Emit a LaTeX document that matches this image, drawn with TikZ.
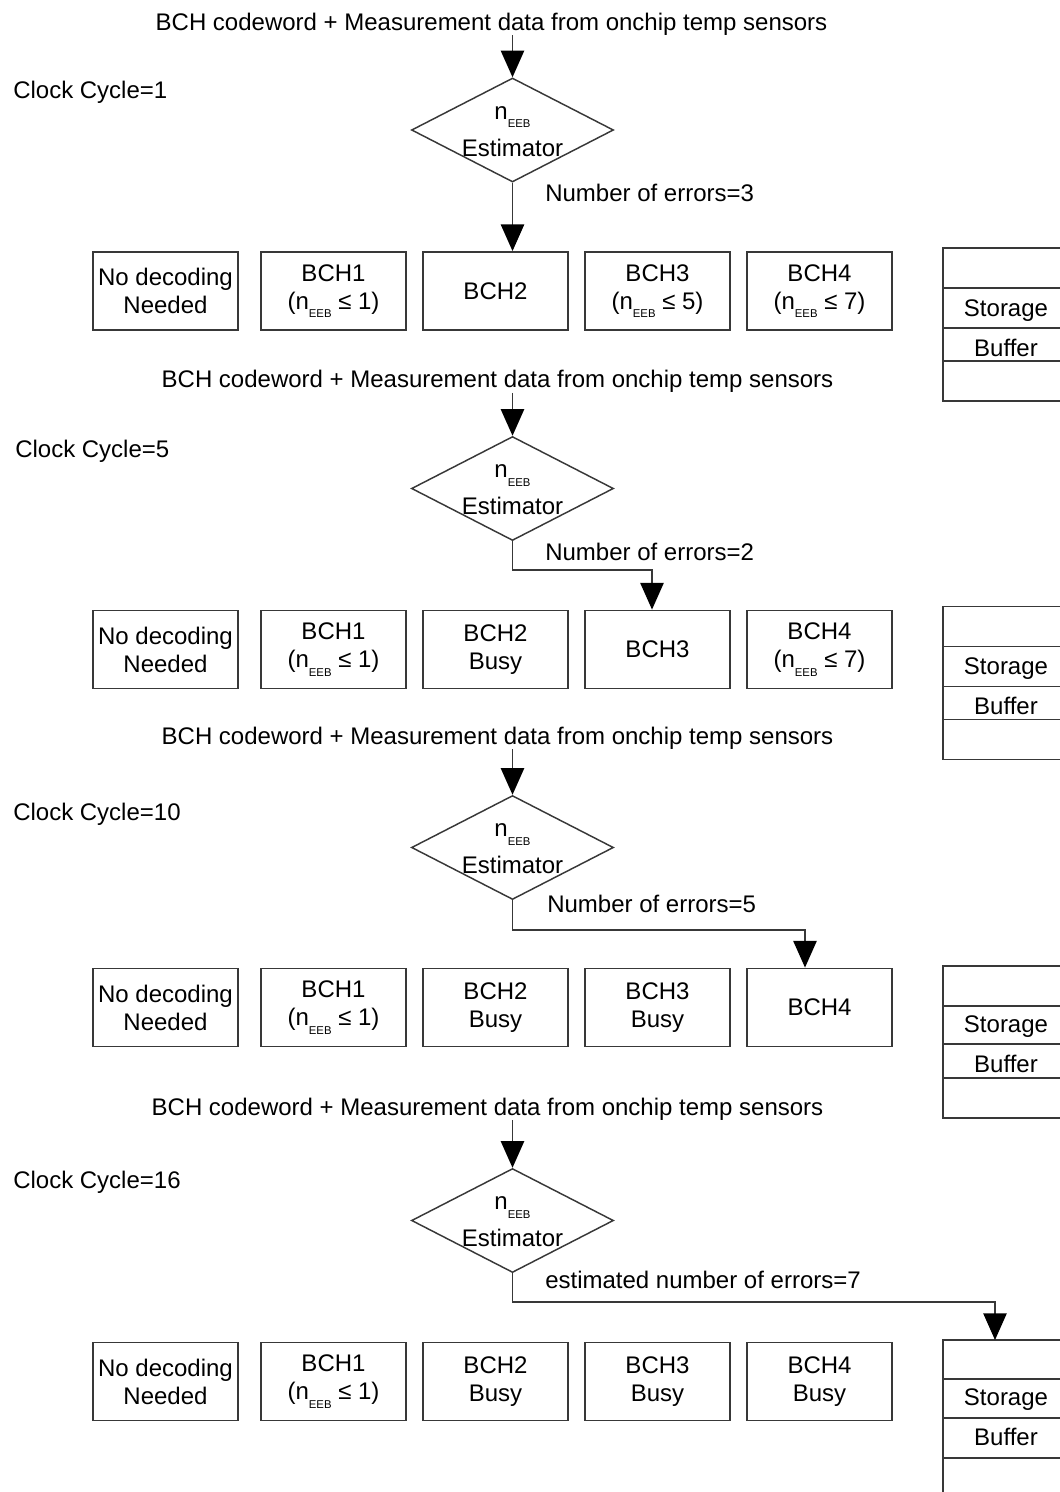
\documentclass[tikz,border=0pt]{standalone}
\usepackage{fontspec}
\setmainfont{Liberation Sans}
\usetikzlibrary{arrows.meta,shapes.geometric}

% n with the small EEB subscript
\newcommand\neeb{n\raisebox{-6.5pt}{\fontsize{8.5}{8.5}\selectfont EEB}}

\tikzset{
  ink/.style={draw=black!78},
  box/.style={ink, line width=1.4pt, minimum width=108.75pt, minimum height=58.5pt,
    inner sep=0pt, align=center},
  est/.style={ink, diamond, line width=1.1pt, minimum width=151.5pt,
    minimum height=78pt, inner sep=0pt},
  flow/.style={ink, line width=1.1pt, -{Triangle[length=20pt,width=17.5pt,color=black]}},
  txt/.style={inner sep=0pt, anchor=base},
  lbl/.style={inner sep=0pt, anchor=base west},
  buf/.style={ink, line width=1.4pt},
}

\begin{document}
\begin{tikzpicture}[x=0.75pt, y=-0.75pt, font=\fontsize{18}{21}\selectfont]
\useasboundingbox (0,0) rectangle (1060,1492);

% ---------------- Clock cycle 1 ----------------
\node[txt] (in1) at (491.5,30) {BCH codeword + Measurement data from onchip temp sensors};
\node[lbl] (clk1) at (13,98) {Clock Cycle=1};
\node[est] (d1) at (512.5,130) {};
\node[txt] (n1) at (512.5,119) {\neeb};
\node[txt] (e1) at (512.5,156) {Estimator};
\node[box] (nd1) at (165.5,291) {No decoding\\Needed};
\node[box] (a1) at (333.5,291) {BCH1\\(\neeb{} ≤ 1)};
\node[box] (b1) at (495.5,291) {BCH2};
\node[box] (c1) at (657.5,291) {BCH3\\(\neeb{} ≤ 5)};
\node[box] (f1) at (819.5,291) {BCH4\\(\neeb{} ≤ 7)};
\draw[buf] (1075,248) -- (943,248) -- (943,401) -- (1075,401);
\draw[buf] (943,288) -- (1075,288) (943,328) -- (1075,328) (943,361) -- (1075,361);
\node[txt] (s1) at (1006,316) {Storage};
\node[txt] (u1) at (1006,356) {Buffer};
\draw[flow] (d1.north |- in1.south) -- (d1.north);
\draw[flow] (d1.south) -- (d1.south |- b1.north);
\node[lbl] (m1) at (545,201) {Number of errors=3};

% ---------------- Clock cycle 5 ----------------
\begin{scope}[shift={(0,358.5)}]
\node[txt] (in2) at (497.5,29) {BCH codeword + Measurement data from onchip temp sensors};
\node[lbl] (clk2) at (15,99) {Clock Cycle=5};
\node[est] (d2) at (512.5,130) {};
\node[txt] (n2) at (512.5,119) {\neeb};
\node[txt] (e2) at (512.5,156) {Estimator};
\node[box] (nd2) at (165.5,291) {No decoding\\Needed};
\node[box] (a2) at (333.5,291) {BCH1\\(\neeb{} ≤ 1)};
\node[box] (b2) at (495.5,291) {BCH2\\Busy};
\node[box] (c2) at (657.5,291) {BCH3};
\node[box] (f2) at (819.5,291) {BCH4\\(\neeb{} ≤ 7)};
\draw[buf] (1075,248) -- (943,248) -- (943,401) -- (1075,401);
\draw[buf] (943,288) -- (1075,288) (943,328) -- (1075,328) (943,361) -- (1075,361);
\node[txt] (s2) at (1006,316) {Storage};
\node[txt] (u2) at (1006,356) {Buffer};
\coordinate (k2) at (652,211.5);
\draw[flow] (d2.north |- in2.south) -- (d2.north);
\draw[flow] (d2.south) -- (d2.south |- k2) -- (k2) -- (k2 |- c2.north);
\node[lbl] (m2) at (545,201.5) {Number of errors=2};
\end{scope}

% ---------------- Clock cycle 10 ----------------
\begin{scope}[shift={(0,717)}]
\node[txt] (in3) at (497.5,27) {BCH codeword + Measurement data from onchip temp sensors};
\node[lbl] (clk3) at (13,103) {Clock Cycle=10};
\node[est] (d3) at (512.5,130.5) {};
\node[txt] (n3) at (512.5,119.5) {\neeb};
\node[txt] (e3) at (512.5,156.5) {Estimator};
\node[box] (nd3) at (165.5,290.5) {No decoding\\Needed};
\node[box] (a3) at (333.5,290.5) {BCH1\\(\neeb{} ≤ 1)};
\node[box] (b3) at (495.5,290.5) {BCH2\\Busy};
\node[box] (c3) at (657.5,290.5) {BCH3\\Busy};
\node[box] (f3) at (819.5,290.5) {BCH4};
\draw[buf] (1075,249) -- (943,249) -- (943,401) -- (1075,401);
\draw[buf] (943,289) -- (1075,289) (943,327) -- (1075,327) (943,361) -- (1075,361);
\node[txt] (s3) at (1006,315) {Storage};
\node[txt] (u3) at (1006,355) {Buffer};
\coordinate (k3) at (805,213);
\draw[flow] (d3.north |- in3.south) -- (d3.north);
\draw[flow] (d3.south) -- (d3.south |- k3) -- (k3) -- (k3 |- f3.north);
\node[lbl] (m3) at (547,195) {Number of errors=5};
\end{scope}

% ---------------- Clock cycle 16 ----------------
\begin{scope}[shift={(0,1090.5)}]
\node[txt] (in4) at (487.5,24.5) {BCH codeword + Measurement data from onchip temp sensors};
\node[lbl] (clk4) at (13,97.5) {Clock Cycle=16};
\node[est] (d4) at (512.5,130) {};
\node[txt] (n4) at (512.5,119) {\neeb};
\node[txt] (e4) at (512.5,156) {Estimator};
\node[box] (nd4) at (165.5,291) {No decoding\\Needed};
\node[box] (a4) at (333.5,291) {BCH1\\(\neeb{} ≤ 1)};
\node[box] (b4) at (495.5,291) {BCH2\\Busy};
\node[box] (c4) at (657.5,291) {BCH3\\Busy};
\node[box] (f4) at (819.5,291) {BCH4\\Busy};
\draw[buf] (943,420) -- (943,249.5) -- (1075,249.5);
\draw[buf] (943,288.5) -- (1075,288.5) (943,327.5) -- (1075,327.5) (943,367.5) -- (1075,367.5);
\node[txt] (s4) at (1006,315) {Storage};
\node[txt] (u4) at (1006,355) {Buffer};
\coordinate (top4) at (995,249.5);
\coordinate (k4) at (995,211.5);
\draw[flow] (d4.north |- in4.south) -- (d4.north);
\draw[flow] (d4.south) -- (d4.south |- k4) -- (k4) -- (top4);
\node[lbl] (m4) at (545,197.5) {estimated number of errors=7};
\end{scope}
\end{tikzpicture}
\end{document}
